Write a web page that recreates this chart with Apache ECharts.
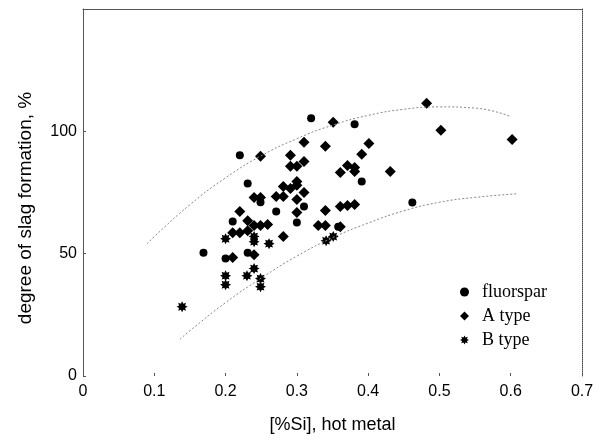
<!DOCTYPE html>
<html><head><meta charset="utf-8">
<script src="https://cdn.jsdelivr.net/npm/echarts@6/dist/echarts.min.js"></script>
<style>html,body{margin:0;padding:0;background:#fff}#c{width:600px;height:441px}</style>
</head><body><div id="c"></div>
<script>
var xTicks = [0, 0.1, 0.2, 0.3, 0.4, 0.5, 0.6, 0.7];
var yTicks = [0, 50, 100];
var fluorspar = [[0.169,50.4],[0.220,90.2],[0.320,105.3],[0.210,63.1],[0.231,78.7],[0.249,71.0],[0.200,48.0],[0.231,50.4],[0.310,69.3],[0.358,61.0],[0.381,102.9],[0.391,79.5],[0.462,70.9],[0.300,62.7],[0.271,67.2]];
var aType = [[0.482,111.5],[0.502,100.4],[0.602,96.7],[0.351,103.7],[0.310,95.5],[0.340,93.9],[0.249,89.8],[0.291,90.2],[0.310,87.7],[0.291,85.7],[0.300,85.7],[0.300,79.5],[0.281,77.5],[0.291,76.6],[0.310,75.0],[0.240,73.0],[0.249,73.0],[0.271,73.4],[0.281,73.4],[0.300,72.1],[0.220,67.2],[0.340,67.6],[0.300,66.8],[0.231,63.5],[0.240,61.5],[0.249,61.5],[0.259,61.9],[0.330,61.5],[0.340,61.5],[0.401,95.0],[0.391,90.6],[0.371,86.0],[0.381,85.2],[0.381,83.6],[0.361,83.2],[0.431,83.6],[0.361,69.3],[0.371,69.7],[0.381,70.1],[0.361,61.0],[0.210,58.6],[0.220,58.6],[0.231,59.4],[0.281,57.0],[0.240,49.6],[0.210,48.4],[0.300,78.0]];
var bType = [[0.139,28.3],[0.200,37.3],[0.249,36.5],[0.200,41.0],[0.240,43.9],[0.230,41.0],[0.249,39.8],[0.200,56.1],[0.240,57.0],[0.240,54.9],[0.261,54.1],[0.341,55.3],[0.351,57.0]];
var upperCurve = [[0.09,54],[0.1,57],[0.15,70],[0.2,81],[0.25,90],[0.3,97],[0.35,102.5],[0.4,106.5],[0.45,109],[0.5,110],[0.55,109.5],[0.6,106]];
var lowerCurve = [[0.136,15],[0.15,18.5],[0.2,30],[0.25,40],[0.3,49],[0.35,56.5],[0.4,62.5],[0.45,67.5],[0.5,71],[0.55,73],[0.61,74.5]];

var starPath = 'path://M0,-10 L2.3,-5.54 L7.07,-7.07 L5.54,-2.3 L10,0 L5.54,2.3 L7.07,7.07 L2.3,5.54 L0,10 L-2.3,5.54 L-7.07,7.07 L-5.54,2.3 L-10,0 L-5.54,-2.3 L-7.07,-7.07 L-2.3,-5.54 Z';
var ch = echarts.init(document.getElementById('c'));
var axisCol = '#555';
ch.setOption({
  animation: false,
  backgroundColor: '#fff',
  grid: {left: 83, right: 18, top: 9, bottom: 65},
  legend: {
    orient: 'vertical', left: 455, top: 278, itemWidth: 9, itemHeight: 9, itemGap: 6,
    data: ['fluorspar', 'A type', 'B type'],
    textStyle: {fontFamily: 'Liberation Serif', fontSize: 18, color: '#000', lineHeight: 18, padding: [0,0,0,8]}
  },
  xAxis: [{
    type: 'value', min: 0, max: 0.7, interval: 0.1,
    name: '[%Si], hot metal', nameLocation: 'middle', nameGap: 40,
    nameTextStyle: {fontFamily: 'Liberation Sans', fontSize: 18, color: '#000'},
    axisLine: {show: false},
    axisTick: {show: true, inside: true, length: 3, lineStyle: {color: axisCol}},
    axisLabel: {fontFamily: 'Liberation Sans', fontSize: 16, color: '#000', margin: 8,
      formatter: function(v){ var r = xTicks.find(function(t){return Math.abs(t-v)<1e-9;}); return r===undefined?'':String(r); }},
    splitLine: {show: false}
  },{
    type: 'value', position: 'top', min: 0, max: 0.7,
    axisLine: {show: true, onZero: false, lineStyle: {color: axisCol, width: 1}},
    axisTick: {show: false}, axisLabel: {show: false}, splitLine: {show: false}
  }],
  yAxis: [{
    type: 'value', min: 0, max: 150, interval: 50,
    axisLine: {show: true, onZero: false, lineStyle: {color: axisCol, width: 1}},
    axisTick: {show: true, inside: true, length: 3, lineStyle: {color: axisCol}},
    axisLabel: {fontFamily: 'Liberation Sans', fontSize: 16, color: '#000', margin: 6,
      formatter: function(v){ return yTicks.indexOf(v) >= 0 ? String(v) : ''; }},
    splitLine: {show: false}
  },{
    type: 'value', position: 'right', min: 0, max: 150,
    axisLine: {show: true, onZero: false, lineStyle: {color: '#444', width: 1, type: [1,1]}},
    axisTick: {show: false}, axisLabel: {show: false}, splitLine: {show: false}
  }],
  graphic: [{
    type: 'text', x: 26, y: 208, rotation: Math.PI/2,
    style: {text: 'degree of slag formation, %', fontFamily: 'Liberation Sans', fontSize: 19, fill: '#000',
      align: 'center', verticalAlign: 'middle', x: 0, y: 0}
  }],
  series: [
    {name: 'upper', type: 'line', data: upperCurve, smooth: true, showSymbol: false, silent: true,
      lineStyle: {color: '#888', width: 1, type: [2,2]}},
    {name: 'lower', type: 'line', data: lowerCurve, smooth: true, showSymbol: false, silent: true,
      lineStyle: {color: '#888', width: 1, type: [2,2]}},
    {name: 'fluorspar', type: 'scatter', data: fluorspar, symbol: 'circle', symbolSize: 8, itemStyle: {color: '#000', opacity: 1}},
    {name: 'A type', type: 'scatter', data: aType, symbol: 'diamond', symbolSize: 11, itemStyle: {color: '#000', opacity: 1}},
    {name: 'B type', type: 'scatter', data: bType, symbol: starPath, symbolSize: 11, itemStyle: {color: '#000', opacity: 1}}
  ]
});
</script></body></html>
